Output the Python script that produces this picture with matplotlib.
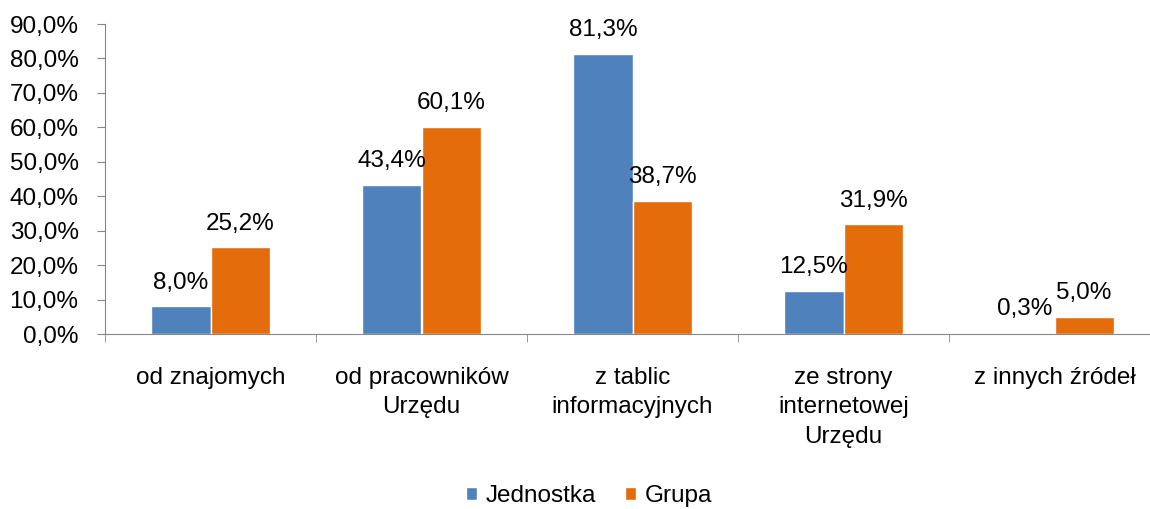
import matplotlib
matplotlib.use("Agg")
import matplotlib.pyplot as plt
import numpy as np

plt.rcParams['font.family'] = ['Liberation Sans', 'DejaVu Sans']

categories = ["od znajomych", "od pracowników\nUrzędu", "z tablic\ninformacyjnych",
              "ze strony\ninternetowej\nUrzędu", "z innych źródeł"]
jednostka = [8.0, 43.4, 81.3, 12.5, 0.3]
grupa = [25.2, 60.1, 38.7, 31.9, 5.0]
series_names = ["Jednostka", "Grupa"]
colors = ["#4F81BD", "#E46C0A"]

fs = 17.5

fig = plt.figure(figsize=(11.5, 5.09), dpi=100)
ax = fig.add_axes([105 / 1150, 1 - 334 / 509, 1055 / 1150, 310 / 509])

x = np.arange(len(categories))
w = 0.28
b1 = ax.bar(x - w / 2, jednostka, w, color=colors[0], edgecolor="white", linewidth=1, label=series_names[0])
b2 = ax.bar(x + w / 2, grupa, w, color=colors[1], edgecolor="white", linewidth=1, label=series_names[1])

for bars, vals in ((b1, jednostka), (b2, grupa)):
    for b, v in zip(bars, vals):
        ax.annotate(f"{v:.1f}%".replace(".", ","), (b.get_x() + b.get_width() / 2, v),
                    xytext=(0, 9), textcoords="offset points", ha="center", va="bottom", fontsize=fs)

ax.set_xlim(-0.5, len(categories) - 0.5)
ax.set_ylim(0, 90)
ax.set_yticks(np.arange(0, 91, 10))
ax.set_yticklabels([f"{t:.1f}%".replace(".", ",") for t in np.arange(0, 91, 10)], fontsize=fs)

ax.set_xticks(x)
ax.set_xticklabels(categories, fontsize=fs, linespacing=1.42)
ax.tick_params(axis="x", which="major", length=0, pad=24)
ax.set_xticks(np.arange(-0.5, len(categories), 1), minor=True)
ax.tick_params(axis="x", which="minor", length=6, color="#888888", direction="out")
ax.tick_params(axis="y", length=6, color="#888888", direction="out", pad=13)

for s in ("top", "right"):
    ax.spines[s].set_visible(False)
for s in ("left", "bottom"):
    ax.spines[s].set_color("#888888")

fig.legend(loc="center", bbox_to_anchor=(589 / 1150, 1 - 496 / 509), ncol=2, frameon=False,
           fontsize=fs, handlelength=0.45, handleheight=0.45, handletextpad=0.35, columnspacing=1.2)

fig.savefig("out.png", dpi=100)
